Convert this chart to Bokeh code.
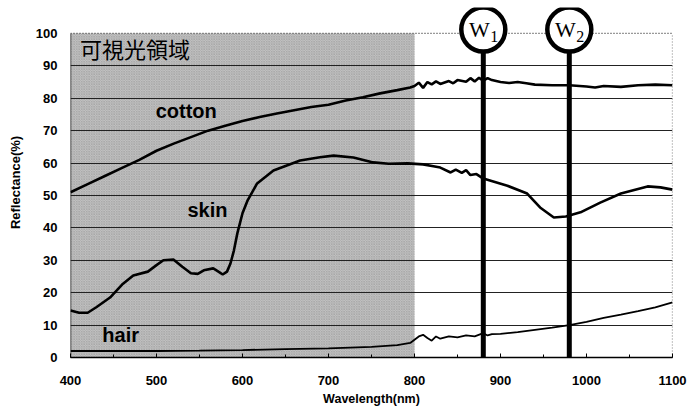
from bokeh.plotting import figure
from bokeh.models import FixedTicker, ColumnDataSource
from bokeh.embed import file_html
from bokeh.resources import INLINE
from bokeh.core.properties import value

# ---- data ----
cotton_x = [400, 420, 440, 460, 480, 500, 520, 540, 560, 580, 600, 620, 640, 660, 680, 700,
            720, 740, 760, 780, 795, 800, 805, 810, 815, 820, 825, 830, 840, 845, 850, 860,
            865, 870, 875, 880, 885, 890, 900, 910, 920, 930, 940, 960, 980, 1000, 1010,
            1020, 1040, 1060, 1080, 1100]
cotton_y = [51, 53.5, 56, 58.5, 61, 63.8, 66, 68, 70, 71.5, 73, 74.2, 75.3, 76.3, 77.3, 78,
            79.3, 80.3, 81.5, 82.5, 83.3, 83.8, 84.8, 83.2, 85, 84.3, 85.2, 84.4, 85.3, 84.6,
            85.6, 85.1, 86.2, 85.2, 86.3, 85.4, 86.2, 85.6, 85, 84.7, 85, 84.6, 84.2, 84,
            84, 83.6, 83.3, 83.8, 83.5, 84, 84.2, 84]

skin_x = [400, 410, 420, 430, 446, 460, 473, 490, 500, 508, 520, 530, 540, 548, 555, 566,
          572, 577, 582, 586, 590, 594, 600, 606, 617, 636, 667, 690, 706, 729, 752, 770,
          792, 810, 822, 830, 842, 848, 855, 860, 865, 872, 880, 908, 931, 946, 962, 976,
          993, 1016, 1040, 1071, 1086, 1100]
skin_y = [14.5, 13.8, 13.8, 15.5, 18.5, 22.5, 25.3, 26.5, 28.5, 30, 30.2, 28, 26, 25.8,
          26.9, 27.5, 26.5, 25.6, 26.5, 29, 33, 38.3, 44.5, 48.5, 53.7, 57.7, 60.8, 61.8,
          62.3, 61.7, 60.2, 59.8, 59.9, 59.6, 59, 58.6, 57.1, 58, 57, 57.8, 56.3, 56.6,
          55.2, 53, 50.6, 46.3, 43.2, 43.5, 44.8, 47.8, 50.6, 52.8, 52.5, 51.8]

hair_x = [400, 450, 500, 550, 600, 650, 700, 750, 780, 795, 800, 805, 810, 815, 820, 825,
          830, 840, 850, 860, 870, 880, 885, 890, 900, 920, 940, 960, 980, 1000, 1020,
          1040, 1060, 1080, 1100]
hair_y = [2, 2, 2, 2.1, 2.3, 2.6, 2.8, 3.3, 3.8, 4.5, 5.5, 6.5, 7, 6, 5.2, 6.5, 5.8, 6.5,
          6.2, 6.8, 6.5, 7.5, 6.8, 7.2, 7.3, 7.8, 8.5, 9.2, 10, 11, 12.2, 13.2, 14.3, 15.5,
          17]

series_names = ["cotton", "skin", "hair"]
visible_range = [400, 800]
visible_label = "可視光領域"
w_positions = [880, 980]
w_letters = ["W", "W"]
w_subs = ["1", "2"]
y_ticks = [0, 10, 20, 30, 40, 50, 60, 70, 80, 90, 100]
x_ticks = [400, 500, 600, 700, 800, 900, 1000, 1100]

SANS = "Liberation Sans"

p = figure(width=687, height=410, output_backend="svg", toolbar_location=None,
           x_range=(400, 1100), y_range=(0, 108),
           min_border_left=70, min_border_right=15, min_border_top=7, min_border_bottom=53)
p.outline_line_color = None
p.background_fill_color = "white"

# shaded visible-light region
gray = p.quad(left=[visible_range[0]], right=[visible_range[1]], bottom=[0], top=[100],
              fill_color="#c2c2c2", line_color=None,
              hatch_pattern="diagonal_cross", hatch_color="#9a9a9a",
              hatch_scale=2.5, hatch_weight=0.6, hatch_alpha=0.9)
gray.level = "image"

# grid
p.xgrid.visible = False
p.ygrid.ticker = FixedTicker(ticks=y_ticks[1:-1])
p.ygrid.grid_line_color = "#222222"
p.ygrid.grid_line_width = 1

# borders
p.segment(x0=[400], y0=[100], x1=[1100], y1=[100], line_color="#333333",
          line_width=1.2, line_dash="1 2")
p.segment(x0=[1100], y0=[0], x1=[1100], y1=[100], line_color="#333333",
          line_width=1.2, line_dash="1 2")
p.segment(x0=[400], y0=[0], x1=[400], y1=[100], line_color="#222222", line_width=1.5)

# axes
p.xaxis.ticker = FixedTicker(ticks=x_ticks, minor_ticks=list(range(400, 1101, 50)))
p.yaxis.ticker = FixedTicker(ticks=y_ticks)
for ax in (p.xaxis[0], p.yaxis[0]):
    ax.major_label_text_font = SANS
    ax.major_label_text_font_style = "bold"
    ax.major_label_text_font_size = "13px"
    ax.major_label_text_color = "black"
    ax.axis_label_text_font = SANS
    ax.axis_label_text_font_style = "bold"
    ax.axis_label_text_color = "black"
    ax.major_tick_out = 0
    ax.minor_tick_out = 0

p.xaxis.axis_label = "Wavelength(nm)"
p.xaxis.axis_label_text_font_size = "12.5px"
p.xaxis.axis_label_standoff = 4
p.xaxis.major_label_standoff = 18
p.xaxis.axis_line_color = "black"
p.xaxis.axis_line_width = 1.5
p.xaxis.major_tick_in = 4
p.xaxis.minor_tick_in = 3
p.xaxis.major_tick_line_color = "black"
p.xaxis.minor_tick_line_color = "black"

p.yaxis.axis_label = "Reflectance(%)"
p.yaxis.axis_label_text_font_size = "13px"
p.yaxis.axis_label_standoff = 10
p.yaxis.major_label_standoff = 13
p.yaxis.axis_line_color = None
p.yaxis.major_tick_in = 0
p.yaxis.minor_tick_line_color = None
p.yaxis.major_tick_line_color = None

# curves
p.line(cotton_x, cotton_y, line_color="black", line_width=2.6)
p.line(skin_x, skin_y, line_color="black", line_width=2.6)
p.line(hair_x, hair_y, line_color="black", line_width=1.8)

# curve labels
p.text(x=[499, 536, 437], y=[76.2, 45.4, 6.8], text=series_names,
       text_font=value(SANS), text_font_style="bold", text_font_size="20px",
       text_baseline="middle", text_align="left", text_color="black")
p.text(x=[411], y=[95.5], text=[visible_label],
       text_font=value("Noto Sans CJK JP"), text_font_size="22px",
       text_baseline="middle", text_align="left", text_color="black")

# W markers
src = ColumnDataSource(dict(x=w_positions, y=[101.2, 101.2], y0=[0, 0],
                            w=w_letters, s=w_subs))
p.segment(x0="x", y0="y0", x1="x", y1="y", source=src, line_color="black", line_width=5)
p.scatter(x="x", y="y", source=src, marker="circle", size=44, fill_color="white",
          line_color="black", line_width=4.5)
p.text(x="x", y="y", source=src, text="w", text_font=value("Liberation Serif"),
       text_font_size="22px", text_align="center", text_baseline="middle",
       x_offset=-4, y_offset=0, text_color="black")
p.text(x="x", y="y", source=src, text="s", text_font=value("Liberation Serif"),
       text_font_size="16px", text_align="center", text_baseline="middle",
       x_offset=11, y_offset=7, text_color="black")

open("out.html", "w").write(file_html(p, INLINE))
